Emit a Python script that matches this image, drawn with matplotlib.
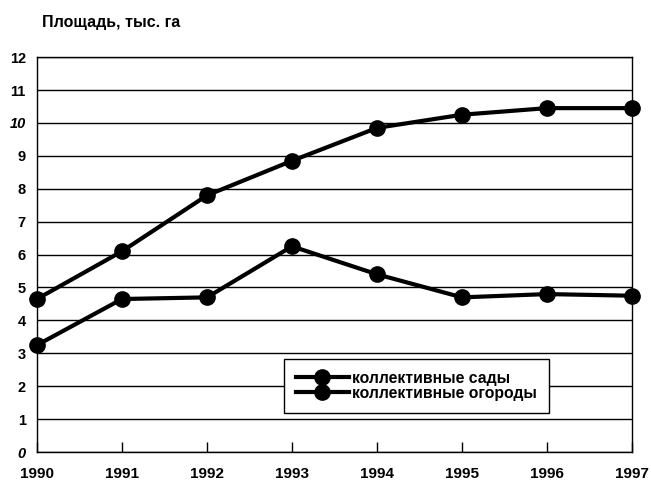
import matplotlib
matplotlib.use("Agg")
import matplotlib.pyplot as plt

years = [1990, 1991, 1992, 1993, 1994, 1995, 1996, 1997]
sady = [4.65, 6.1, 7.8, 8.85, 9.85, 10.25, 10.45, 10.45]
ogorody = [3.25, 4.65, 4.7, 6.25, 5.4, 4.7, 4.8, 4.75]
series_names = ["коллективные сады", "коллективные огороды"]
yticks = list(range(0, 13))
ylabel_text = "Площадь, тыс. га"

plt.rcParams['font.family'] = ['Liberation Sans', 'DejaVu Sans']

fig = plt.figure(figsize=(6.51, 4.84), dpi=100)
ax = fig.add_axes([0.0568, 0.066, 0.9142, 0.816])

ax.set_xlim(years[0], years[-1])
ax.set_ylim(0, 12)

for v in yticks:
    ax.axhline(v, color='black', lw=1.0, zorder=1)

for vals, name in zip([sady, ogorody], series_names):
    ax.plot(years, vals, color='black', lw=3.0, marker='o', markersize=11,
            clip_on=False, zorder=3, label=name)

for s in ax.spines.values():
    s.set_color('black')
    s.set_linewidth(1.0)

ax.set_yticks(yticks)
ax.set_yticklabels([str(v) for v in yticks])
for lbl in ax.get_yticklabels():
    lbl.set_fontweight('bold')
    lbl.set_fontsize(10.5)
    if lbl.get_text() in ('0', '10'):
        lbl.set_fontstyle('italic')
ax.tick_params(axis='y', length=0, pad=8)

ax.set_xticks(years)
ax.set_xticklabels([str(y) for y in years], fontweight='bold', fontsize=11)
ax.tick_params(axis='x', direction='in', length=7, width=1, pad=11)

fig.text(0.064, 0.953, ylabel_text, fontsize=11.5, fontweight='bold', ha='left', va='center')

leg = ax.legend(loc='upper left', bbox_to_anchor=(284/651, 1 - 359/484),
                bbox_transform=fig.transFigure, frameon=True, fancybox=False,
                edgecolor='black', framealpha=1, handlelength=3.4,
                prop={'weight': 'bold', 'size': 11.3}, borderpad=0.75,
                labelspacing=0.0, handletextpad=0.2, borderaxespad=0)
leg.get_frame().set_linewidth(1.0)

fig.savefig("out.png", dpi=100)
